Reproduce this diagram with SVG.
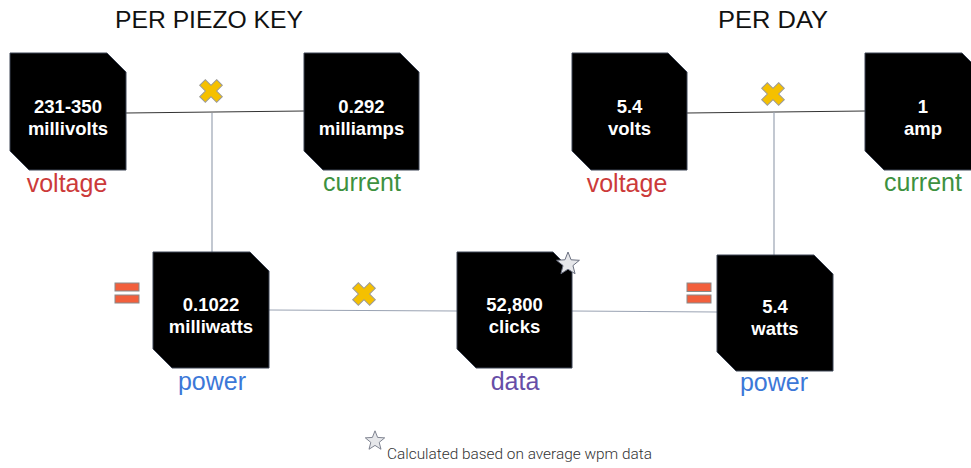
<svg xmlns="http://www.w3.org/2000/svg" width="971" height="468" viewBox="0 0 971 468">
<style>
.node{fill:#000;stroke:#3d4555;stroke-width:1}
.nt{font-family:"Liberation Sans",Arial,sans-serif;font-weight:bold;font-size:18.5px;fill:#fff;text-anchor:middle}
.lbl{font-family:"Liberation Sans",Arial,sans-serif;font-size:25px;text-anchor:middle}
.title{font-family:"Liberation Sans",Arial,sans-serif;font-size:24px;fill:#111}
.v{fill:#cc3a3a}.c{fill:#3d9140}.p{fill:#3c78d8}.d{fill:#674ea7}
.dark{stroke:#333;stroke-width:1;fill:none}
.grey{stroke:#9aa3b3;stroke-width:1.2;fill:none}
.eq{fill:#f25f3c;stroke:#8a8a8a;stroke-width:1}
.x{fill:#f5c000;stroke:#9a9a9a;stroke-width:1}
.star{fill:#e6e7ea;stroke:#6b7080;stroke-width:1}
</style>
<defs>
<path id="cross" d="M-4,-12 H4 V-4 H12 V4 H4 V12 H-4 V4 H-12 V-4 H-4 Z" transform="rotate(45)"/>
<polygon id="starS" points="0,-12 3.06,-4.21 11.41,-3.71 4.95,1.61 7.05,9.71 0,5.2 -7.05,9.71 -4.95,1.61 -11.41,-3.71 -3.06,-4.21"/>
</defs>
<rect width="971" height="468" fill="#fff"/>
<text class="title" x="115" y="28" textLength="188" lengthAdjust="spacingAndGlyphs">PER PIEZO KEY</text>
<text class="title" x="718" y="28" textLength="110" lengthAdjust="spacingAndGlyphs">PER DAY</text>
<g id="connectors">
<line class="dark" x1="126" y1="113" x2="304" y2="111"/>
<line class="grey" x1="212" y1="113" x2="212" y2="252"/>
<line class="dark" x1="687" y1="113" x2="865" y2="111"/>
<line class="grey" x1="774" y1="112" x2="774" y2="255"/>
<line class="grey" x1="269" y1="310" x2="457" y2="311"/>
<line class="grey" x1="572" y1="311" x2="717" y2="312"/>
</g>
<g id="operators">
<g transform="translate(211,91)"><use href="#cross" class="x"/></g>
<g transform="translate(364,294)"><use href="#cross" class="x"/></g>
<g transform="translate(773,94)"><use href="#cross" class="x"/></g>
<rect class="eq" x="115" y="283" width="24" height="8"/>
<rect class="eq" x="115" y="295" width="24" height="8"/>
<rect class="eq" x="687" y="283" width="24" height="8.5"/>
<rect class="eq" x="687" y="295" width="24" height="8"/>
</g>
<g id="n-voltage1">
<polygon class="node" points="10,53 107,53 126,72 126,170 29,170 10,151"/>
<text class="nt" x="68" y="113">231-350</text>
<text class="nt" x="68" y="135">millivolts</text>
<text class="lbl v" x="67" y="192">voltage</text>
</g>
<g id="n-current1">
<polygon class="node" points="304,53 400,53 419,72 419,170 323,170 304,151"/>
<text class="nt" x="361.5" y="113">0.292</text>
<text class="nt" x="361.5" y="135">milliamps</text>
<text class="lbl c" x="362" y="191">current</text>
</g>
<g id="n-power1">
<polygon class="node" points="153,252 250,252 269,271 269,368 172,368 153,349"/>
<text class="nt" x="211" y="311">0.1022</text>
<text class="nt" x="211" y="333">milliwatts</text>
<text class="lbl p" x="212" y="390">power</text>
</g>
<g id="n-data">
<polygon class="node" points="457,252 553,252 572,271 572,368 476,368 457,349"/>
<text class="nt" x="514.5" y="311">52,800</text>
<text class="nt" x="514.5" y="333">clicks</text>
<text class="lbl d" x="515" y="390">data</text>
<g transform="translate(568,264)"><use href="#starS" class="star"/></g>
</g>
<g id="n-voltage2">
<polygon class="node" points="572,53 668,53 687,72 687,170 591,170 572,151"/>
<text class="nt" x="629.5" y="113">5.4</text>
<text class="nt" x="629.5" y="135">volts</text>
<text class="lbl v" x="627" y="192">voltage</text>
</g>
<g id="n-current2">
<polygon class="node" points="865,53 962,53 981,72 981,170 884,170 865,151"/>
<text class="nt" x="923" y="113">1</text>
<text class="nt" x="923" y="135">amp</text>
<text class="lbl c" x="923" y="191">current</text>
</g>
<g id="n-power2">
<polygon class="node" points="717,255 814,255 833,274 833,371 736,371 717,352"/>
<text class="nt" x="775" y="313">5.4</text>
<text class="nt" x="775" y="335">watts</text>
<text class="lbl p" x="774" y="391">power</text>
</g>
<g id="footnote">
<g transform="translate(375,441) scale(0.85)"><use href="#starS" class="star"/></g>
<text x="387" y="459" font-family="Roboto,'Liberation Sans',sans-serif" font-weight="300" font-size="14.5" fill="#333" textLength="265" lengthAdjust="spacingAndGlyphs">Calculated based on average wpm data</text>
</g>
</svg>
